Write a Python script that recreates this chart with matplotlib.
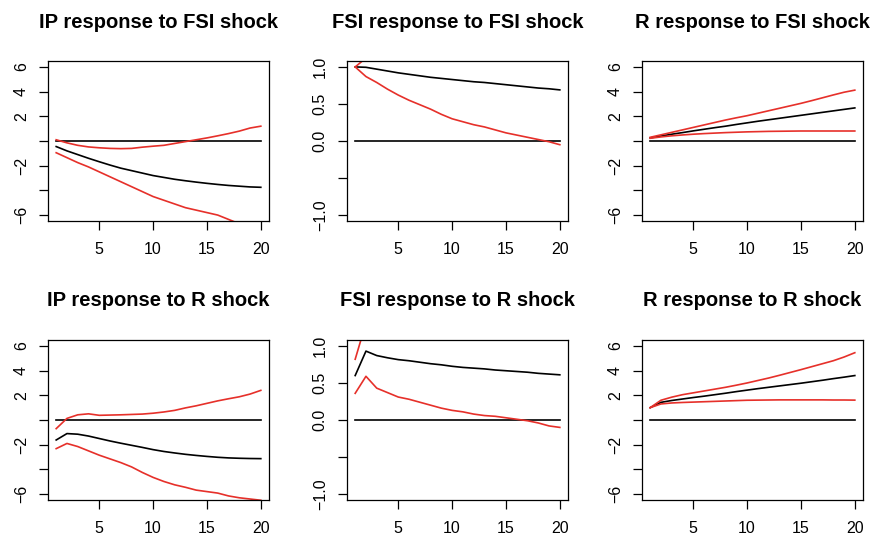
import matplotlib
matplotlib.use("Agg")
import matplotlib.pyplot as plt
import numpy as np

plt.rcParams['font.family'] = ['Liberation Sans', 'DejaVu Sans']

horizon = list(range(1, 21))

titles = ["IP response to FSI shock", "FSI response to FSI shock", "R response to FSI shock",
          "IP response to R shock", "FSI response to R shock", "R response to R shock"]

# IP response to FSI shock
ip_fsi_mid = [-0.45, -0.8, -1.1, -1.4, -1.68, -1.95, -2.2, -2.4, -2.6, -2.8,
              -2.95, -3.1, -3.22, -3.33, -3.43, -3.52, -3.6, -3.66, -3.72, -3.75]
ip_fsi_up = [0.1, -0.15, -0.35, -0.48, -0.55, -0.6, -0.62, -0.6, -0.5, -0.42,
             -0.35, -0.2, -0.05, 0.1, 0.25, 0.42, 0.6, 0.8, 1.05, 1.2]
ip_fsi_lo = [-0.95, -1.35, -1.75, -2.1, -2.5, -2.9, -3.3, -3.7, -4.1, -4.5,
             -4.8, -5.1, -5.4, -5.6, -5.8, -6.0, -6.35, -6.7, -7.0, -7.3]

# FSI response to FSI shock
fsi_fsi_mid = [1.0, 0.995, 0.97, 0.945, 0.92, 0.9, 0.88, 0.86, 0.845, 0.83,
               0.815, 0.8, 0.79, 0.775, 0.76, 0.745, 0.73, 0.715, 0.705, 0.69]
fsi_fsi_up = [1.0, 1.12, 1.2, 1.26, 1.3, 1.33, 1.35, 1.37, 1.38, 1.39,
              1.4, 1.4, 1.41, 1.41, 1.41, 1.41, 1.41, 1.41, 1.41, 1.41]
fsi_fsi_lo = [1.0, 0.87, 0.79, 0.7, 0.62, 0.55, 0.49, 0.43, 0.36, 0.3,
              0.26, 0.22, 0.19, 0.15, 0.11, 0.08, 0.05, 0.02, -0.01, -0.05]

# R response to FSI shock
r_fsi_mid = [0.25, 0.4, 0.55, 0.68, 0.82, 0.95, 1.08, 1.2, 1.34, 1.47,
             1.6, 1.72, 1.84, 1.96, 2.08, 2.2, 2.32, 2.44, 2.56, 2.68]
r_fsi_up = [0.3, 0.5, 0.7, 0.9, 1.1, 1.3, 1.5, 1.7, 1.88, 2.05,
            2.25, 2.45, 2.65, 2.85, 3.05, 3.27, 3.5, 3.73, 3.95, 4.12]
r_fsi_lo = [0.22, 0.33, 0.42, 0.49, 0.55, 0.6, 0.64, 0.68, 0.71, 0.74,
            0.76, 0.78, 0.79, 0.8, 0.81, 0.81, 0.81, 0.81, 0.81, 0.81]

# IP response to R shock
ip_r_mid = [-1.62, -1.1, -1.15, -1.3, -1.5, -1.7, -1.88, -2.05, -2.22, -2.4,
            -2.55, -2.67, -2.78, -2.87, -2.95, -3.02, -3.07, -3.1, -3.12, -3.13]
ip_r_up = [-0.7, 0.13, 0.42, 0.5, 0.38, 0.4, 0.42, 0.45, 0.48, 0.55,
           0.65, 0.78, 0.98, 1.15, 1.35, 1.55, 1.72, 1.88, 2.1, 2.4]
ip_r_lo = [-2.32, -1.9, -2.15, -2.5, -2.85, -3.15, -3.45, -3.8, -4.25, -4.65,
           -4.98, -5.25, -5.45, -5.68, -5.8, -5.92, -6.15, -6.3, -6.4, -6.5]

# FSI response to R shock
fsi_r_mid = [0.6, 0.93, 0.87, 0.84, 0.815, 0.8, 0.78, 0.76, 0.745, 0.725,
             0.71, 0.7, 0.69, 0.675, 0.665, 0.655, 0.645, 0.63, 0.62, 0.61]
fsi_r_up = [0.82, 1.31, 1.3, 1.29, 1.28, 1.27, 1.26, 1.25, 1.24, 1.23,
            1.22, 1.21, 1.2, 1.2, 1.19, 1.19, 1.18, 1.18, 1.17, 1.17]
fsi_r_lo = [0.36, 0.59, 0.43, 0.37, 0.31, 0.28, 0.24, 0.2, 0.16, 0.13,
            0.11, 0.08, 0.06, 0.05, 0.03, 0.01, -0.01, -0.04, -0.08, -0.1]

# R response to R shock
r_r_mid = [1.0, 1.43, 1.58, 1.7, 1.82, 1.93, 2.05, 2.17, 2.3, 2.42,
           2.54, 2.65, 2.76, 2.87, 2.98, 3.1, 3.22, 3.35, 3.47, 3.6]
r_r_up = [1.0, 1.6, 1.85, 2.05, 2.2, 2.35, 2.5, 2.65, 2.82, 3.0,
          3.2, 3.4, 3.62, 3.85, 4.08, 4.32, 4.56, 4.8, 5.1, 5.45]
r_r_lo = [1.0, 1.3, 1.38, 1.42, 1.45, 1.48, 1.51, 1.54, 1.57, 1.6,
          1.61, 1.62, 1.63, 1.63, 1.63, 1.63, 1.63, 1.62, 1.62, 1.61]

series = [(ip_fsi_mid, ip_fsi_up, ip_fsi_lo), (fsi_fsi_mid, fsi_fsi_up, fsi_fsi_lo),
          (r_fsi_mid, r_fsi_up, r_fsi_lo), (ip_r_mid, ip_r_up, ip_r_lo),
          (fsi_r_mid, fsi_r_up, fsi_r_lo), (r_r_mid, r_r_up, r_r_lo)]

ip_ticks = [-6, -4, -2, 0, 2, 4, 6]
ip_ticklabels = ["\u22126", "", "\u22122", "", "2", "4", "6"]
fsi_ticks = [-1.0, -0.5, 0.0, 0.5, 1.0]
fsi_ticklabels = ["\u22121.0", "", "0.0", "0.5", "1.0"]
x_ticks = [5, 10, 15, 20]

W, H = 873, 537
fig = plt.figure(figsize=(W / 100, H / 100), dpi=100)

col_left = [48, 347, 642]
row_top = [61, 340]
pw, ph = 221, 160
red = '#e6302a'

for i in range(6):
    r, c = divmod(i, 3)
    left = col_left[c]
    top = row_top[r]
    ax = fig.add_axes([left / W, 1 - (top + ph) / H, pw / W, ph / H])
    mid, up, lo = series[i]
    ax.plot(horizon, [0] * len(horizon), color='black', lw=1.2)
    ax.plot(horizon, mid, color='black', lw=1.2)
    ax.plot(horizon, up, color=red, lw=1.2)
    ax.plot(horizon, lo, color=red, lw=1.2)
    ax.set_xlim(1 - 0.76, 20 + 0.76)
    if c == 1:
        ax.set_ylim(-1.08, 1.08)
        ax.set_yticks(fsi_ticks)
        ax.set_yticklabels(fsi_ticklabels, rotation=90, va='center')
    else:
        ax.set_ylim(-6.48, 6.48)
        ax.set_yticks(ip_ticks)
        ax.set_yticklabels(ip_ticklabels, rotation=90, va='center')
    ax.set_xticks(x_ticks)
    ax.set_xticklabels([str(t) for t in x_ticks])
    ax.tick_params(axis='both', direction='out', length=6.8, width=0.9,
                   labelsize=11.5, color='black')
    ax.tick_params(axis='x', pad=8)
    ax.tick_params(axis='y', pad=7)
    for s in ax.spines.values():
        s.set_linewidth(0.9)
    ax.text(0.5, 1 + 39 / ph, titles[i], transform=ax.transAxes, ha='center',
            va='center', fontsize=14.5, fontweight='bold')

fig.savefig('out.png', dpi=100)
